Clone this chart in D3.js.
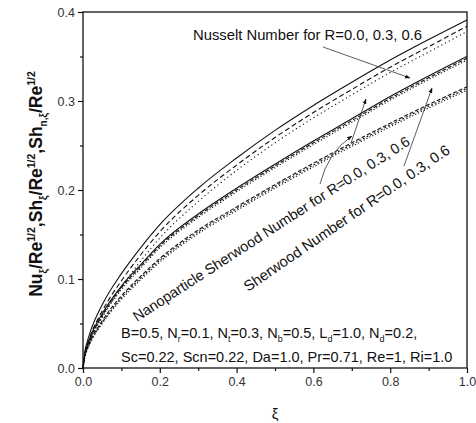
<!DOCTYPE html>
<html>
<head>
<meta charset="utf-8">
<script src="https://cdn.jsdelivr.net/npm/d3@7"></script>
<style>
  body { margin: 0; background: #fff; }
  svg { font-family: "Liberation Sans", Arial, sans-serif; }
</style>
</head>
<body>
<svg id="chart" width="476" height="423"></svg>
<script>
// values
const xi = [0, 0.005, 0.01, 0.02, 0.05, 0.1, 0.15, 0.2, 0.3, 0.4, 0.5, 0.6, 0.7, 0.8, 0.9, 1.0];

// Nusselt number, R = 0.0, 0.3, 0.6
const nuR0 = [0, 0.019, 0.028, 0.042, 0.071, 0.106, 0.135, 0.161, 0.202, 0.236, 0.267, 0.295, 0.321, 0.346, 0.369, 0.391];
const nuR3 = [0, 0.016, 0.024, 0.037, 0.064, 0.098, 0.127, 0.153, 0.194, 0.228, 0.259, 0.287, 0.313, 0.338, 0.361, 0.384];
const nuR6 = [0, 0.014, 0.021, 0.033, 0.058, 0.091, 0.120, 0.146, 0.187, 0.222, 0.253, 0.281, 0.307, 0.332, 0.355, 0.378];

// nanoparticle Sherwood number
const shnR0 = [0, 0.016, 0.024, 0.036, 0.061, 0.092, 0.116, 0.139, 0.173, 0.202, 0.229, 0.255, 0.280, 0.305, 0.328, 0.350];
const shnR3 = [0, 0.015, 0.023, 0.034, 0.059, 0.090, 0.114, 0.137, 0.171, 0.200, 0.227, 0.253, 0.278, 0.303, 0.326, 0.348];
const shnR6 = [0, 0.014, 0.022, 0.033, 0.057, 0.088, 0.112, 0.135, 0.169, 0.198, 0.225, 0.251, 0.276, 0.301, 0.324, 0.346];

// Sherwood number
const shR0 = [0, 0.014, 0.021, 0.031, 0.053, 0.081, 0.103, 0.123, 0.155, 0.181, 0.206, 0.230, 0.253, 0.275, 0.296, 0.316];
const shR3 = [0, 0.013, 0.020, 0.030, 0.051, 0.079, 0.101, 0.121, 0.153, 0.179, 0.204, 0.228, 0.251, 0.273, 0.294, 0.314];
const shR6 = [0, 0.012, 0.019, 0.029, 0.050, 0.077, 0.099, 0.119, 0.151, 0.177, 0.202, 0.226, 0.249, 0.271, 0.292, 0.312];

const xTicks = [0, 0.2, 0.4, 0.6, 0.8, 1.0];
const yTicks = [0, 0.1, 0.2, 0.3, 0.4];

const series = [
  { values: nuR0, dash: null },
  { values: nuR3, dash: "5,3" },
  { values: nuR6, dash: "1.2,3" },
  { values: shnR0, dash: null },
  { values: shnR3, dash: "4,2" },
  { values: shnR6, dash: "1.2,2" },
  { values: shR0, dash: "4,2" },
  { values: shR3, dash: "2,2" },
  { values: shR6, dash: "1.2,2" }
];

const svg = d3.select("#chart");
const mLeft = 83, mRight = 467, mTop = 12, mBottom = 368;

const x = d3.scaleLinear().domain([0, 1]).range([mLeft, mRight]);
const y = d3.scaleLinear().domain([0, 0.4]).range([mBottom, mTop]);

svg.append("defs").append("marker")
    .attr("id", "arrow")
    .attr("viewBox", "0 0 10 10")
    .attr("refX", 9).attr("refY", 5)
    .attr("markerWidth", 7).attr("markerHeight", 7)
    .attr("orient", "auto")
  .append("path")
    .attr("d", "M0,1.5 L10,5 L0,8.5 Z")
    .attr("fill", "#111");

// minor ticks
svg.append("g")
    .attr("transform", `translate(0,${mBottom})`)
    .call(d3.axisBottom(x).tickValues([0.1, 0.3, 0.5, 0.7, 0.9]).tickSize(3).tickFormat(""))
    .call(g => g.select(".domain").remove());
svg.append("g")
    .attr("transform", `translate(${mLeft},0)`)
    .call(d3.axisLeft(y).tickValues([0.05, 0.15, 0.25, 0.35]).tickSize(3).tickFormat(""))
    .call(g => g.select(".domain").remove());

// major ticks
svg.append("g")
    .attr("transform", `translate(0,${mBottom})`)
    .call(d3.axisBottom(x).tickValues(xTicks).tickSize(5).tickPadding(4).tickFormat(d3.format(".1f")))
    .call(g => g.select(".domain").remove())
    .call(g => g.selectAll("text").attr("font-size", 12.5).attr("fill", "#333").attr("font-family", "Liberation Sans, Arial, sans-serif"));
svg.append("g")
    .attr("transform", `translate(${mLeft},0)`)
    .call(d3.axisLeft(y).tickValues(yTicks).tickSize(5).tickPadding(3).tickFormat(d3.format(".1f")))
    .call(g => g.select(".domain").remove())
    .call(g => g.selectAll("text").attr("font-size", 12.5).attr("fill", "#333").attr("font-family", "Liberation Sans, Arial, sans-serif"));

svg.selectAll(".tick line").attr("stroke", "#111").attr("stroke-width", 1.2);

// frame
svg.append("rect")
    .attr("x", mLeft).attr("y", mTop)
    .attr("width", mRight - mLeft).attr("height", mBottom - mTop)
    .attr("fill", "none").attr("stroke", "#111").attr("stroke-width", 1.3);

const line = d3.line()
    .x((d, i) => x(xi[i]))
    .y(d => y(d))
    .curve(d3.curveMonotoneX);

svg.append("g").selectAll("path")
  .data(series)
  .join("path")
    .attr("d", d => line(d.values))
    .attr("fill", "none")
    .attr("stroke", "#111")
    .attr("stroke-width", 1.1)
    .attr("stroke-dasharray", d => d.dash);

// annotations
svg.append("text")
    .attr("x", 193).attr("y", 40)
    .attr("font-size", 14.8).attr("fill", "#111")
    .text("Nusselt Number for R=0.0, 0.3, 0.6");

svg.append("text")
    .attr("transform", "translate(137,322) rotate(-33)")
    .attr("font-size", 14.5).attr("fill", "#111")
    .text("Nanoparticle Sherwood Number for R=0.0, 0.3, 0.6");

svg.append("text")
    .attr("transform", "translate(248,292) rotate(-34.5)")
    .attr("font-size", 14.8).attr("fill", "#111")
    .text("Sherwood Number for R=0.0, 0.3, 0.6");

const arrows = [
  "M323,47 L410,78",
  "M320,184 Q328,152 352,136",
  "M351,143 L366,99",
  "M404,166 L432,88"
];
svg.append("g").selectAll("path")
  .data(arrows)
  .join("path")
    .attr("d", d => d)
    .attr("fill", "none")
    .attr("stroke", "#333")
    .attr("stroke-width", 0.8)
    .attr("marker-end", "url(#arrow)");

// parameter block
const p1 = svg.append("text").attr("x", 121).attr("y", 338).attr("font-size", 14.5).attr("fill", "#111");
[["B=0.5, N", ""], ["r", "sub"], ["=0.1, N", ""], ["t", "sub"], ["=0.3, N", ""], ["b", "sub"],
 ["=0.5, L", ""], ["d", "sub"], ["=1.0, N", ""], ["d", "sub"], ["=0.2,", ""]].forEach(([t, k], i, arr) => {
  const prevSub = i > 0 && arr[i - 1][1] === "sub";
  p1.append("tspan")
    .attr("dy", k === "sub" ? 4 : (prevSub ? -4 : 0))
    .attr("font-size", k === "sub" ? 9 : 14.5)
    .text(t);
});
svg.append("text").attr("x", 121).attr("y", 362).attr("font-size", 14.5).attr("fill", "#111")
    .text("Sc=0.22, Scn=0.22, Da=1.0, Pr=0.71, Re=1, Ri=1.0");

// axis titles
svg.append("text")
    .attr("x", (mLeft + mRight) / 2).attr("y", 419)
    .attr("text-anchor", "middle").attr("font-size", 15).attr("fill", "#111")
    .text("ξ");

const yl = svg.append("text")
    .attr("transform", "translate(42,184) rotate(-90)")
    .attr("text-anchor", "middle")
    .attr("font-size", 17.5).attr("font-weight", "bold").attr("fill", "#111");
const parts = [
  ["Nu", 0, 17.5], ["ξ", 5, 10], ["/Re", -5, 17.5], ["1/2", -7, 10.5], [",Sh", 7, 17.5], ["ξ", 5, 10],
  ["/Re", -5, 17.5], ["1/2", -7, 10.5], [",Sh", 7, 17.5], ["n,ξ", 5, 10], ["/Re", -5, 17.5], ["1/2", -7, 10.5]
];
parts.forEach(([t, dy, fs]) => {
  yl.append("tspan").attr("dy", dy).attr("font-size", fs).text(t);
});
</script>
</body>
</html>
